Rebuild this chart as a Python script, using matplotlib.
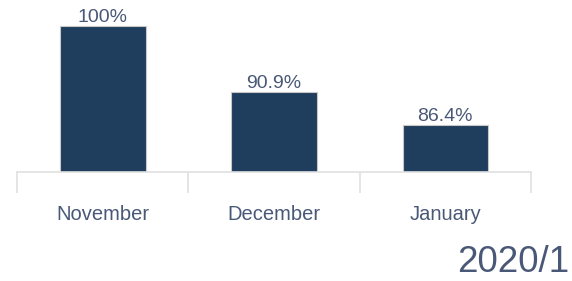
import matplotlib.pyplot as plt

months = ['November', 'December', 'January']
values = [100, 90.9, 86.4]
labels = ['100%', '90.9%', '86.4%']
footer = '2020/1'

bar_color = '#1f3d5c'
text_color = '#4a5878'
grid_color = '#e0e0e0'

plt.rcParams['font.family'] = ['Liberation Sans', 'DejaVu Sans']

fig = plt.figure(figsize=(5.72, 2.81), dpi=100)
# axes placed by pixel: x 17..531, baseline at y=172, top at y=10
ax = fig.add_axes([17 / 572, 109 / 281, 514 / 572, 162 / 281])

x = range(len(months))
ax.bar(x, values, width=0.5, color=bar_color, edgecolor='#c8c8c8', linewidth=0.8)
ax.set_xlim(-0.5, 2.5)
ax.set_ylim(80, 102.2)

for xi, v, lab in zip(x, values, labels):
    ax.annotate(lab, (xi, v), xytext=(0, 0), textcoords='offset points',
                ha='center', va='bottom', fontsize=14, color=text_color)

for s in ['top', 'right', 'left']:
    ax.spines[s].set_visible(False)
ax.spines['bottom'].set_color(grid_color)
ax.spines['bottom'].set_linewidth(1.2)
ax.set_yticks([])

ax.set_xticks(list(x))
ax.set_xticklabels(months, fontsize=14.5, color=text_color)
ax.tick_params(axis='x', which='major', length=0, pad=24)
ax.set_xticks([-0.5, 0.5, 1.5, 2.5], minor=True)
ax.tick_params(axis='x', which='minor', length=15, width=1.2, color=grid_color)

fig.text(569 / 572, 0.5 / 281, footer, fontsize=26.5, color=text_color,
         ha='right', va='bottom')

fig.savefig('out.png', dpi=100)
